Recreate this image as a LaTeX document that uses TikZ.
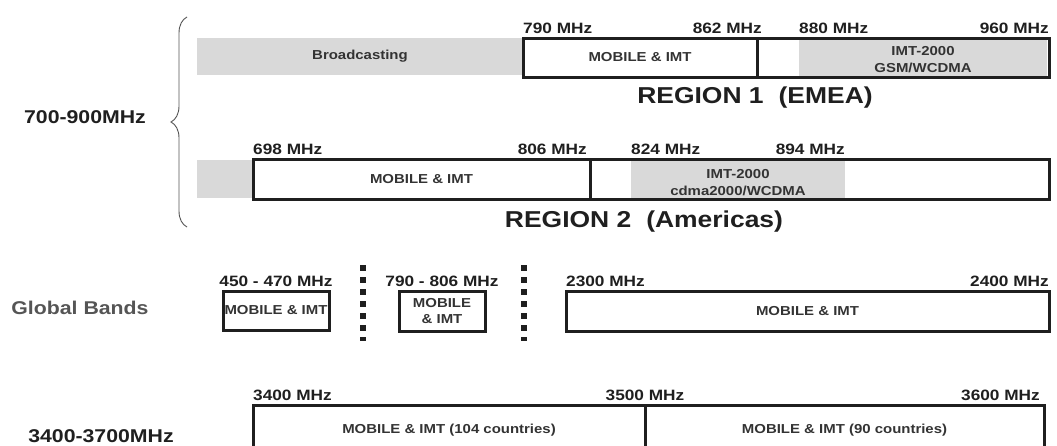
\documentclass[tikz,border=0pt]{standalone}
\usepackage{fontspec}
\newfontfamily\arialx[FakeStretch=1.15]{Liberation Sans}
\usepackage{xcolor}
\usepackage{tikz}
\usetikzlibrary{positioning,decorations.pathreplacing}

\definecolor{bandgray}{HTML}{D9D9D9}
\definecolor{inkc}{HTML}{1F1F1F}
\definecolor{lblc}{HTML}{333333}
\definecolor{softc}{HTML}{555555}

\begin{document}
\begin{tikzpicture}[
    x=1pt, y=-1pt,
    seg/.style={draw=inkc, line width=3pt, inner sep=0pt, outer sep=0pt,
                anchor=north west, align=center, text=lblc,
                font=\arialx\bfseries\fontsize{13}{16}\selectfont},
    grayband/.style={fill=bandgray, inner sep=0pt, outer sep=0pt,
                anchor=north west, align=center, text=lblc,
                font=\arialx\bfseries\fontsize{13}{17}\selectfont},
    inlabel/.style={align=center, text=lblc, inner sep=0pt,
                font=\arialx\bfseries\fontsize{13}{17}\selectfont},
    freq/.style={font=\arialx\bfseries\fontsize{15}{18}\selectfont,
                 text=inkc, inner sep=0pt, yshift=5pt},
    regiontitle/.style={font=\arialx\bfseries\fontsize{23}{26}\selectfont, text=inkc},
    sidelabel/.style={font=\arialx\bfseries\fontsize{18.5}{22}\selectfont, text=inkc},
    dotcol/.style={draw=inkc, line width=6pt, dash pattern=on 6pt off 6pt}
]
\useasboundingbox (0,0) rectangle (1057,445);

% 700-900 MHz, region 1
\node[grayband, minimum width=326pt, minimum height=37pt] (bcast) at (197,38) {Broadcasting};
\node[grayband, minimum width=248pt, minimum height=36pt] (gsm1) at (799,39.5) {};
\node[inlabel, yshift=-2.5pt] (gsm1txt) at (gsm1.center) {IMT-2000\\GSM/WCDMA};
\node[seg, minimum width=234pt, minimum height=39pt] (mob1) at (523,38) {MOBILE \& IMT};
\node[seg, minimum width=292pt, minimum height=39pt] (imt1) at (757,38) {};

\node[freq, anchor=base west] at (mob1.north west) {790 MHz};
\node[freq, anchor=base east, xshift=5pt] at (mob1.north east) {862 MHz};
\node[freq, anchor=base west] at (gsm1.north west |- imt1.north) {880 MHz};
\node[freq, anchor=base east] at (imt1.north east) {960 MHz};
\node[regiontitle] (reg1) at (755,98) {REGION 1\hspace{0.65em}(EMEA)};

% 700-900 MHz, region 2
\node[grayband, minimum width=56pt, minimum height=38pt] (low2) at (197,160) {};
\node[grayband, minimum width=214pt, minimum height=37pt] (cdma2) at (631,160.5) {};
\node[inlabel, yshift=-4pt] (cdma2txt) at (cdma2.center) {IMT-2000\\cdma2000/WCDMA};
\node[seg, minimum width=337pt, minimum height=40pt] (mob2) at (253,159) {MOBILE \& IMT};
\node[seg, minimum width=459pt, minimum height=40pt] (imt2) at (590,159) {};

\node[freq, anchor=base west] at (mob2.north west) {698 MHz};
\node[freq, anchor=base east, xshift=-3pt] at (mob2.north east) {806 MHz};
\node[freq, anchor=base west] at (cdma2.north west |- imt2.north) {824 MHz};
\node[freq, anchor=base east] at (cdma2.north east |- imt2.north) {894 MHz};
\node[regiontitle] (reg2) at (644,222) {REGION 2\hspace{0.65em}(Americas)};

% brace
\coordinate (braceb) at (187,227);
\coordinate (bracet) at (187,17);
\draw[draw=softc, line width=0.9pt, decorate, decoration={brace, amplitude=16pt}] (braceb) -- (bracet);
\node[sidelabel] (lowband) at (85,117) {700-900MHz};

% global bands
\node[sidelabel, text=softc] (global) at (80,308) {Global Bands};
\node[seg, minimum width=106pt, minimum height=39pt] (gb1) at (223,291) {MOBILE \& IMT};
\node[freq, anchor=base] at (gb1.north) {450 - 470 MHz};
\coordinate (sepa) at (363,265);
\coordinate (sepb) at (363,341);
\draw[dotcol] (sepa) -- (sepb);
\node[seg, minimum width=86pt, minimum height=40pt] (gb2) at (399,291) {MOBILE\\\& IMT};
\node[freq, anchor=base] at (gb2.north) {790 - 806 MHz};
\coordinate (sepc) at (524,265);
\coordinate (sepd) at (524,341);
\draw[dotcol] (sepc) -- (sepd);
\node[seg, minimum width=483pt, minimum height=40pt] (gb3) at (566,291) {MOBILE \& IMT};
\node[freq, anchor=base west] at (gb3.north west) {2300 MHz};
\node[freq, anchor=base east] at (gb3.north east) {2400 MHz};

% 3400-3700 MHz
\node[sidelabel] (highband) at (101,436) {3400-3700MHz};
\node[seg, minimum width=392pt, minimum height=50pt] (c104) at (253,405) {MOBILE \& IMT (104 countries)};
\node[seg, minimum width=399pt, minimum height=50pt] (c90) at (645,405) {MOBILE \& IMT (90 countries)};
\node[freq, anchor=base west] at (c104.north west) {3400 MHz};
\node[freq, anchor=base] at (c104.north east) {3500 MHz};
\node[freq, anchor=base east, xshift=-4pt] at (c90.north east) {3600 MHz};
\end{tikzpicture}
\end{document}
